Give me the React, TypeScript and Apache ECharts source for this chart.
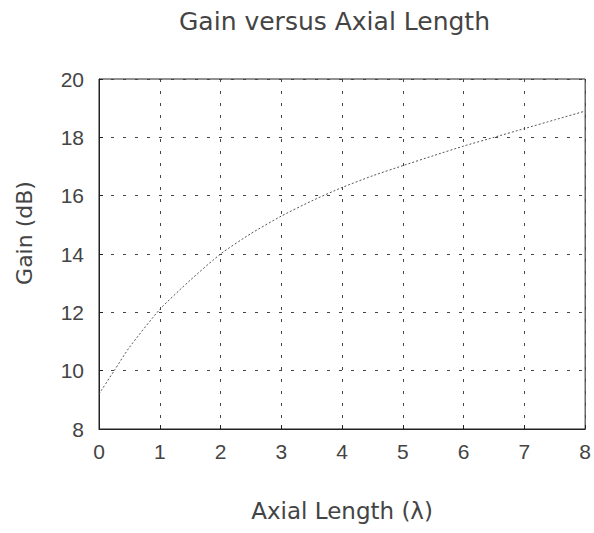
import React, { useEffect, useRef } from "react";
import * as echarts from "echarts";

const titleText = "Gain versus Axial Length";
const xAxisName = "Axial Length (λ)";
const yAxisName = "Gain (dB)";

const axialLength = [0, 0.25, 0.5, 1, 1.5, 2, 2.5, 3, 3.5, 4, 4.5, 5, 5.5, 6, 6.5, 7, 7.5, 8];
const gainDb = [9.2, 10.0, 10.8, 12.1, 13.1, 14.0, 14.7, 15.3, 15.82, 16.28, 16.68, 17.03, 17.37, 17.7, 18.0, 18.3, 18.6, 18.9];

const xTicks = { min: 0, max: 8, interval: 1 };
const yTicks = { min: 8, max: 20, interval: 2 };

export default function App() {
  const ref = useRef<HTMLDivElement>(null);
  useEffect(() => {
    if (!ref.current) return;
    const chart = echarts.init(ref.current, null, { renderer: "svg" });
    const textColor = "#444";
    const gridLine = { show: true, lineStyle: { color: "#444", width: 1, type: [3, 9] as any } };
    chart.setOption({
      animation: false,
      backgroundColor: "#fff",
      title: {
        text: titleText,
        left: 174,
        top: 4,
        textStyle: { fontFamily: "DejaVu Sans", fontSize: 25, fontWeight: "normal", color: textColor },
      },
      grid: {
        left: 99,
        top: 79,
        right: 6,
        bottom: 104,
        show: true,
        borderColor: "#222",
        borderWidth: 1,
        backgroundColor: "transparent",
      },
      xAxis: {
        type: "value",
        min: xTicks.min,
        max: xTicks.max,
        interval: xTicks.interval,
        name: xAxisName,
        nameLocation: "middle",
        nameGap: 70,
        nameTextStyle: { fontFamily: "DejaVu Sans", fontSize: 23, color: textColor },
        axisLine: { show: true, lineStyle: { color: "#222" } },
        axisTick: { show: true, inside: true, length: 4, lineStyle: { color: "#222" } },
        axisLabel: { margin: 12, fontFamily: "Liberation Sans", fontSize: 21, color: textColor },
        splitLine: gridLine,
      },
      yAxis: {
        type: "value",
        min: yTicks.min,
        max: yTicks.max,
        interval: yTicks.interval,
        axisLine: { show: true, lineStyle: { color: "#222" } },
        axisTick: { show: true, inside: true, length: 4, lineStyle: { color: "#222" } },
        axisLabel: { margin: 15, fontFamily: "Liberation Sans", fontSize: 21, color: textColor },
        splitLine: gridLine,
      },
      graphic: [
        {
          type: "text",
          x: 24,
          y: 233,
          rotation: Math.PI / 2,
          style: {
            text: yAxisName,
            fontFamily: "DejaVu Sans",
            fontSize: 22,
            fill: textColor,
            textAlign: "center",
            textVerticalAlign: "middle",
          },
        },
      ],
      series: [
        {
          type: "line",
          data: axialLength.map((x, i) => [x, gainDb[i]]),
          showSymbol: false,
          smooth: 0.2,
          lineStyle: { color: "#555", width: 1, type: [2, 2] as any },
        },
      ],
    });
    return () => chart.dispose();
  }, []);
  return (
    <div
      ref={ref}
      style={{ position: "fixed", left: 0, top: 0, width: 594, height: 533, background: "#fff" }}
    />
  );
}
